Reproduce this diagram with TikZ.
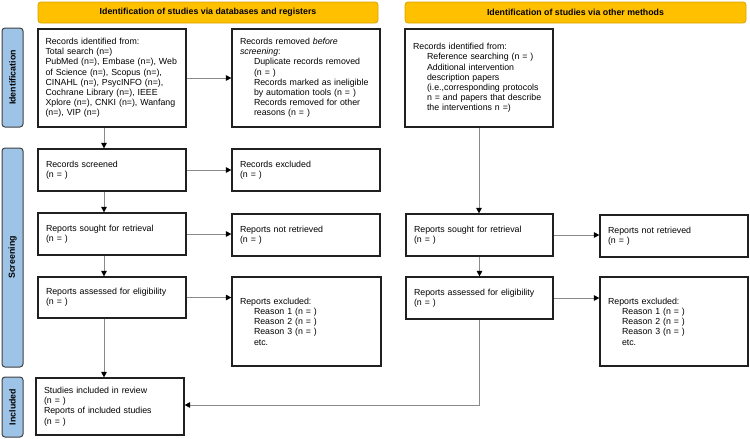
\documentclass[tikz,border=0pt]{standalone}
\usepackage{fontspec}
\setmainfont{Liberation Sans}
\usetikzlibrary{arrows.meta}
\definecolor{hdrfill}{HTML}{FFC000}
\definecolor{hdrline}{HTML}{D9A300}
\definecolor{sidefill}{HTML}{9DC3E6}
\definecolor{sideline}{HTML}{404040}
\definecolor{boxline}{HTML}{202020}
\definecolor{arrline}{HTML}{8A8A8A}
\newcommand\ind{\hspace*{14pt}}
\tikzset{
  hdr/.style={draw=hdrline, fill=hdrfill, line width=0.8pt, rounded corners=3pt,
    minimum height=21pt, inner sep=0pt, font=\fontsize{8.8}{10.2}\selectfont\bfseries},
  side/.style={draw=sideline, fill=sidefill, line width=1pt, rounded corners=3pt,
    rotate=90, minimum height=21pt, inner sep=0pt, font=\fontsize{8.8}{10.2}\selectfont\bfseries},
  box/.style={draw=boxline, line width=1.2pt, inner sep=0pt, align=left,
    font=\fontsize{8.8}{10.2}\selectfont},
  conn/.style={draw=arrline, line width=1pt,
    -{Triangle[length=5.5pt,width=5.5pt,color=black,fill=black]}},
}
\begin{document}
\begin{tikzpicture}[x=1pt,y=-1pt]
\useasboundingbox (0,0) rectangle (750,439);
% headers
\node[hdr, minimum width=340pt] (h1) at (208,12.5) {Identification of studies via databases and registers};
\node[hdr, minimum width=341pt] (h2) at (575.5,12.5) {Identification of studies via other methods};
% side bars
\node[side, minimum width=99pt] (s1) at (12.5,77.5) {Identification};
\node[side, minimum width=219pt] (s2) at (12.5,257.5) {Screening};
\node[side, minimum width=60pt] (s3) at (12.5,407) {Included};
% left column
\node[box, minimum width=148pt, minimum height=98pt, text width=133pt] (b1) at (112,78) {Records identified from:\\Total search (n=)\\PubMed (n=), Embase (n=), Web\\of Science (n=), Scopus (n=),\\CINAHL (n=), PsycINFO (n=),\\Cochrane Library (n=), IEEE\\Xplore (n=), CNKI (n=), Wanfang\\(n=), VIP (n=)};
\node[box, minimum width=148pt, minimum height=98pt, text width=132pt] (b2) at (306,78) {Records removed \textit{before}\\\textit{screening}:\\\ind Duplicate records removed\\\ind (n = )\\\ind Records marked as ineligible\\\ind by automation tools (n = )\\\ind Records removed for other\\\ind reasons (n = )};
\node[box, minimum width=148pt, minimum height=42pt, text width=132pt] (rs) at (112,170) {Records screened\\(n = )};
\node[box, minimum width=148pt, minimum height=42pt, text width=132pt] (re) at (306,170) {Records excluded\\(n = )};
\node[box, minimum width=148pt, minimum height=42pt, text width=132pt] (sought) at (112,234) {Reports sought for retrieval\\(n = )};
\node[box, minimum width=148pt, minimum height=42pt, text width=132pt] (notret) at (306,235) {Reports not retrieved\\(n = )};
\node[box, minimum width=148pt, minimum height=41pt, text width=132pt] (assess) at (112,297.5) {Reports assessed for eligibility\\(n = )};
\node[box, minimum width=149pt, minimum height=89pt, text width=133pt] (excl) at (306.5,321.5) {Reports excluded:\\\ind Reason 1 (n = )\\\ind Reason 2 (n = )\\\ind Reason 3 (n = )\\\ind etc.};
\node[box, minimum width=148pt, minimum height=57pt, text width=132pt] (incl) at (110,406.5) {Studies included in review\\(n = )\\Reports of included studies\\(n = )};
% right column
\node[box, minimum width=148pt, minimum height=98pt, text width=132pt] (o1) at (479,78) {Records identified from:\\\ind Reference searching (n = )\\\ind Additional intervention\\\ind description papers\\\ind (i.e.,corresponding protocols\\\ind n = and papers that describe\\\ind the interventions n =)};
\node[box, minimum width=147pt, minimum height=42pt, text width=131pt] (sought2) at (479.5,235) {Reports sought for retrieval\\(n = )};
\node[box, minimum width=148pt, minimum height=42pt, text width=132pt] (notret2) at (674,236) {Reports not retrieved\\(n = )};
\node[box, minimum width=147pt, minimum height=42pt, text width=131pt] (assess2) at (479.5,298) {Reports assessed for eligibility\\(n = )};
\node[box, minimum width=148pt, minimum height=89pt, text width=132pt] (excl2) at (674,321.5) {Reports excluded:\\\ind Reason 1 (n = )\\\ind Reason 2 (n = )\\\ind Reason 3 (n = )\\\ind etc.};
% connectors
\draw[conn] ([xshift=-8pt]b1.south) -- ([xshift=-8pt]rs.north);
\draw[conn] ([xshift=-8pt]rs.south) -- ([xshift=-8pt]sought.north);
\draw[conn] ([xshift=-8pt]sought.south) -- ([xshift=-8pt]assess.north);
\draw[conn] ([xshift=-8pt]assess.south) -- ([xshift=-6pt]incl.north);
\draw[conn] (b1.east) -- (b2.west);
\draw[conn] (rs.east) -- (re.west);
\draw[conn] (sought.east) -- (sought.east -| notret.west);
\draw[conn] (assess.east) -- (assess.east -| excl.west);
\draw[conn] (o1.south) -- (o1.south |- sought2.north);
\draw[conn] (sought2.south) -- (assess2.north);
\draw[conn] (sought2.east) -- (sought2.east -| notret2.west);
\draw[conn] (assess2.east) -- (assess2.east -| excl2.west);
\draw[conn] (assess2.south) |- ([yshift=1.5pt]incl.east);
\end{tikzpicture}
\end{document}
